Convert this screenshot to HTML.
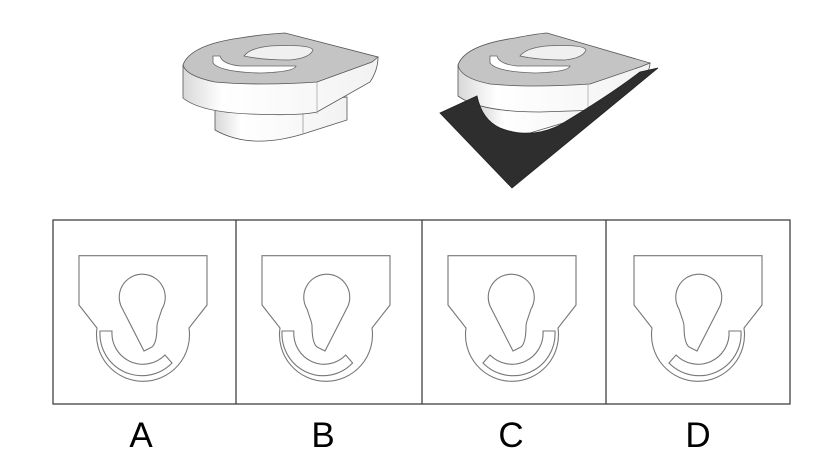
<!DOCTYPE html>
<html><head><meta charset="utf-8"><style>
html,body{margin:0;padding:0;background:#fff;}
svg{display:block;}
text{font-family:"Liberation Sans",sans-serif;}
</style></head><body>
<svg width="836" height="471" viewBox="0 0 836 471" xmlns="http://www.w3.org/2000/svg">
<defs>
  <linearGradient id="side" x1="0" x2="1" y1="0" y2="0">
    <stop offset="0" stop-color="#d8d8d8"/><stop offset="0.2" stop-color="#ffffff"/><stop offset="1" stop-color="#f2f2f2"/>
  </linearGradient>
  <g id="outline" fill="none" stroke="#777" stroke-width="1.1">
    <path d="M26,255.7 H154 V305 L136,328 A46.5,46.5 0 1 1 44,328 L26,305 Z"/>
  </g>
  <g id="key" fill="none" stroke="#777" stroke-width="1.1">
    <path d="M68,306 A23,23 0 1 1 109,309 L105,321 Q104,324 104,326 Q104,346 97,348 L91,351 Z"/>
  </g>
  <g id="slot" fill="none" stroke="#777" stroke-width="1.1">
    <path d="M47,331 L59,331 A31,31 0 0 0 112,355 L119,363 A42,42 0 0 1 47,331 Z"/>
  </g>
</defs>

<!-- left 3D object -->
<g stroke="#555" stroke-width="0.8">
  <path d="M215,110 L215,130 Q250,150 303,134 L347,120 L347,97 Z" fill="url(#side)"/>
  <line x1="303" y1="112" x2="303" y2="134" stroke="#999"/>
  <path d="M183,65 L183,98 Q200,112 250,114 Q300,116 317,112 L370,82 Q378,70 378,57 Z" fill="url(#side)"/>
  <line x1="317" y1="82" x2="317" y2="114" stroke="#aaa"/>
  <path d="M183,65 Q190,45 240,38 Q265,34 285,33 L378,57 L372,62 L317,82 Q260,86 215,82 Q186,76 183,65 Z" fill="#c4c4c4"/>
  <path d="M213,56 L220,56 Q222,64 240,66 L296,66 Q294,72 260,73 Q220,72 213,63 Z" fill="#fff" stroke="#666"/>
  <path d="M244,56 Q250,48 270,46 Q310,44 313,50 Q310,58 290,60 Q262,60 244,56 Z" fill="#f0f0f0" stroke="#666"/>
</g>

<!-- right 3D object -->
<g stroke="#555" stroke-width="0.8">
  <path d="M480,100 L480,120 Q500,135 530,133 L600,112 L600,90 Z" fill="url(#side)"/>
  <path d="M458,65 L458,96 Q480,112 540,112 L600,110 L645,75 Q650,70 650,63 Z" fill="url(#side)"/>
  <line x1="588" y1="85" x2="588" y2="112" stroke="#aaa"/>
  <path d="M458,65 Q465,45 515,38 Q535,34 547,33 L650,63 L640,67 L590,84 Q530,88 490,84 Q460,78 458,65 Z" fill="#c4c4c4"/>
  <path d="M490,56 L497,56 Q499,64 517,66 L570,66 Q568,72 535,73 Q497,72 490,63 Z" fill="#fff" stroke="#666"/>
  <path d="M520,56 Q526,48 546,46 Q584,44 586,50 Q583,58 565,60 Q538,60 520,56 Z" fill="#f0f0f0" stroke="#666"/>
  <path d="M440,113 L477,96 Q482,120 500,128 Q530,140 560,125 Q610,95 640,72 L658,68 L512,188 Z" fill="#2e2e2e" stroke="#222"/>
</g>

<!-- boxes -->
<g fill="none" stroke="#333" stroke-width="1.2">
  <rect x="53" y="220" width="737" height="184"/>
  <line x1="236" y1="220" x2="236" y2="404"/>
  <line x1="422" y1="220" x2="422" y2="404"/>
  <line x1="606" y1="220" x2="606" y2="404"/>
</g>

<!-- A -->
<g transform="translate(53,0)"><use href="#outline"/><use href="#key"/><use href="#slot"/></g>
<!-- B -->
<g transform="translate(236,0)"><use href="#outline"/><use href="#key" transform="translate(180,0) scale(-1,1)"/><use href="#slot" transform="scale(0.98,1)"/></g>
<!-- C -->
<g transform="translate(422,0)"><use href="#outline"/><use href="#key"/><use href="#slot" transform="translate(180,0) scale(-1,1)"/></g>
<!-- D -->
<g transform="translate(608,0)"><use href="#outline"/><use href="#key" transform="translate(180,0) scale(-1,1)"/><use href="#slot" transform="translate(180,0) scale(-1,1)"/></g>

<g font-size="35" fill="#000" text-anchor="middle">
  <text x="141" y="447">A</text>
  <text x="323" y="447">B</text>
  <text x="511" y="447">C</text>
  <text x="698" y="447">D</text>
</g>
</svg>
</body></html>
